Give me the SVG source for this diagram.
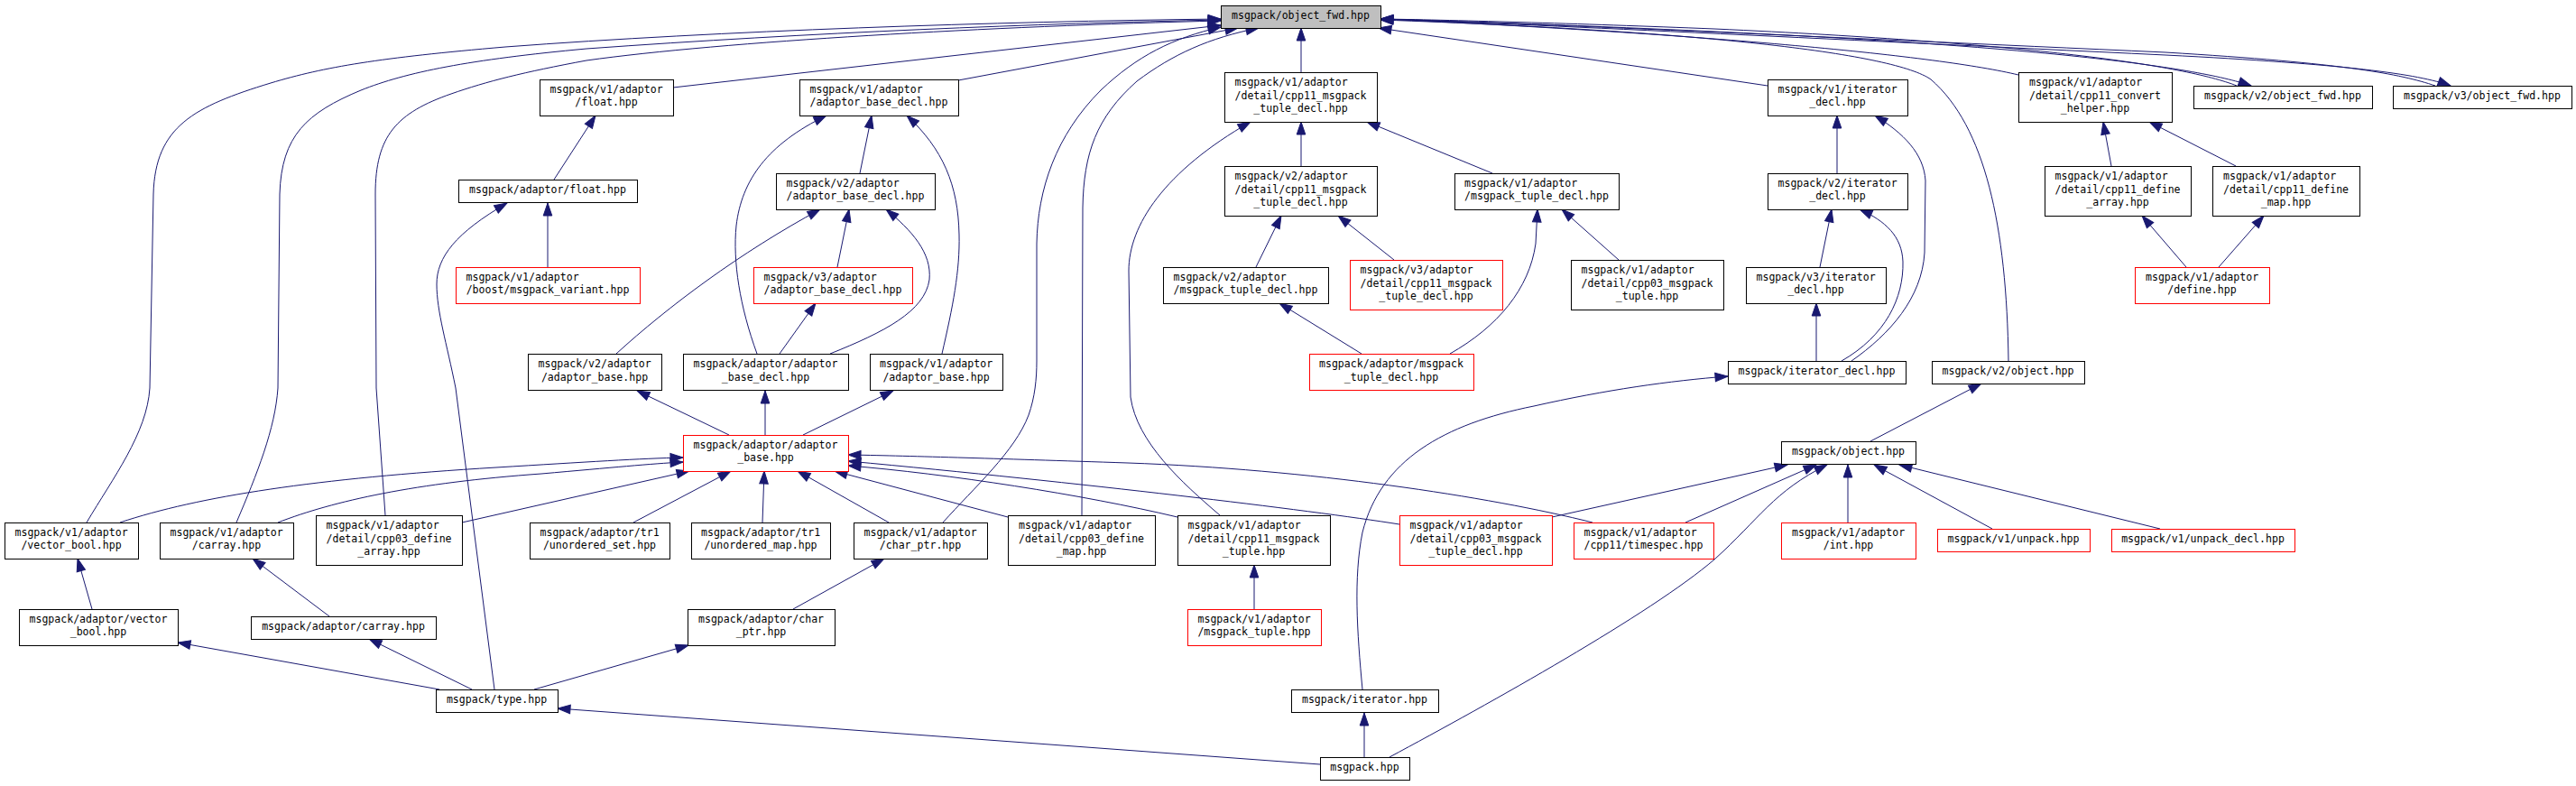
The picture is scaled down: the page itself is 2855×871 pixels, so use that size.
<svg xmlns="http://www.w3.org/2000/svg" width="2855" height="871" viewBox="0 0 2855 871">
<style>
.node rect{fill:#fff;stroke:#000;stroke-width:1}
.node.trunc rect{stroke:#ff0000}
.node.root rect{fill:#bfbfbf}
text{font-family:"DejaVu Sans Mono","Liberation Mono",monospace;font-size:11.55px;fill:#000}
text.m{text-anchor:middle}
.edges path{fill:none;stroke:#191970;stroke-width:1;marker-end:url(#arr)}
</style>
<defs>
<marker id="arr" markerUnits="userSpaceOnUse" markerWidth="14" markerHeight="10" viewBox="0 0 14 10" refX="14" refY="5" orient="auto" overflow="visible">
<path d="M0,0.2 L14,5 L0,9.8 z" fill="#191970" stroke="#191970" stroke-width="1"/>
</marker>
</defs>
<rect width="2855" height="871" fill="#fff"/>
<g class="edges" id="connectors">
<path d="M96,579 C125,530 163,480 166,430 L170,215 C172,140 215,118 300,92 C360,74 420,64 560,52 C800,34 1100,24 1353,21"/>
<path d="M262,579 C285,525 305,475 308,430 L310,215 C312,150 340,125 400,100 C450,80 520,66 650,54 C900,36 1150,26 1353,22"/>
<path d="M427,571 L417,430 L416,215 C416,150 440,125 500,104 C540,90 580,80 650,67 C800,46 1100,29 1353,23"/>
<path d="M746,97 L1353,28"/>
<path d="M1062,89 L1372,31"/>
<path d="M1045,579 C1080,540 1125,500 1140,460 C1147,440 1149,420 1149,400 L1149,270 C1150,210 1170,150 1220,100 C1260,62 1300,42 1353,30"/>
<path d="M1199,571 L1200,230 C1201,170 1215,130 1260,90 C1300,60 1340,42 1395,31"/>
<path d="M1442,80 L1442,31"/>
<path d="M1959,95 L1528,31"/>
<path d="M2226,400 C2224,250 2200,140 2140,88 C2100,60 1900,35 1530,22"/>
<path d="M2237,83 C2150,62 1900,38 1530,21"/>
<path d="M2479,95 C2420,72 2250,48 1900,32 C1750,26 1600,22 1530,21"/>
<path d="M1530,21 C1600,23 1750,28 1900,35 C2250,51 2430,73 2495,95"/>
<path d="M2699,95 C2660,82 2600,70 2400,58 C2000,40 1700,26 1530,21"/>
<path d="M1530,21 C1700,27 2000,42 2400,61 C2600,71 2680,82 2716,95"/>
<path d="M614,199 L660,128"/>
<path d="M607,296 L607,225"/>
<path d="M548,764 L505,430 C495,380 484,345 484,315 C484,285 505,258 562,225"/>
<path d="M953,192 L966,128"/>
<path d="M839,392 C820,340 812,290 816,250 C822,200 850,160 916,128"/>
<path d="M1044,392 C1056,340 1064,300 1063,260 C1062,205 1045,165 1005,128"/>
<path d="M683,392 C740,340 820,280 909,232"/>
<path d="M928,296 L941,232"/>
<path d="M920,392 C980,368 1025,345 1030,310 C1033,280 1010,255 982,232"/>
<path d="M864,392 L904,336"/>
<path d="M808,482 L706,433"/>
<path d="M848,482 L848,433"/>
<path d="M890,482 L990,433"/>
<path d="M133,579 C220,550 350,530 550,518 C650,512 710,508 757,507"/>
<path d="M308,579 C370,555 460,535 600,525 C680,518 720,514 757,512"/>
<path d="M512,579 L764,522"/>
<path d="M702,579 L810,522"/>
<path d="M845,579 L847,522"/>
<path d="M985,579 L884,522"/>
<path d="M1117,573 L925,522"/>
<path d="M1305,573 C1200,548 1050,525 940,516"/>
<path d="M1551,581 C1450,565 1200,535 940,511"/>
<path d="M1765,579 C1650,550 1450,520 1250,513 C1100,508 1000,505 940,504"/>
<path d="M1442,184 L1442,135"/>
<path d="M1654,192 L1515,135"/>
<path d="M1352,571 C1310,535 1260,490 1253,440 L1251,300 C1251,250 1290,190 1386,135"/>
<path d="M1392,296 L1420,239"/>
<path d="M1545,288 L1483,239"/>
<path d="M1794,288 L1731,232"/>
<path d="M1607,392 C1660,362 1695,320 1702,270 L1704,232"/>
<path d="M1509,392 L1418,336"/>
<path d="M2036,192 L2036,128"/>
<path d="M2052,400 C2095,370 2130,330 2133,280 L2134,200 C2132,170 2110,148 2078,128"/>
<path d="M2017,296 L2030,232"/>
<path d="M2041,400 C2090,372 2110,330 2109,290 C2108,262 2090,245 2061,232"/>
<path d="M2013,400 L2013,336"/>
<path d="M2340,184 L2331,135"/>
<path d="M2478,184 L2382,135"/>
<path d="M2423,296 L2374,239"/>
<path d="M2459,296 L2509,239"/>
<path d="M1510,764 C1504,700 1500,640 1510,590 C1530,510 1600,470 1700,450 C1780,432 1850,422 1915,417"/>
<path d="M2073,489 L2196,425"/>
<path d="M1720,573 L1981,515"/>
<path d="M1868,579 L2013,515"/>
<path d="M2048,579 L2048,515"/>
<path d="M2208,586 L2077,515"/>
<path d="M2394,586 L2105,515"/>
<path d="M1540,839 C1650,780 1830,680 1900,620 C1950,575 1965,545 2025,515"/>
<path d="M102,675 L86,619"/>
<path d="M365,683 L280,619"/>
<path d="M487,764 L197,712"/>
<path d="M523,764 L409,708"/>
<path d="M592,764 L763,715"/>
<path d="M879,675 L980,619"/>
<path d="M1390,675 L1390,626"/>
<path d="M1512,839 L1512,790"/>
<path d="M1463,847 L618,785"/>
</g>
<g id="n0" class="node root"><rect x="1353.5" y="6.5" width="177" height="25"/><text class="m" x="1441.5" y="20.7">msgpack/object_fwd.hpp</text></g>
<g id="n1" class="node"><rect x="598.5" y="88.5" width="148" height="40"/><text x="609.5" y="102.7">msgpack/v1/adaptor</text><text class="m" x="672" y="117.3">/float.hpp</text></g>
<g id="n2" class="node"><rect x="886.5" y="88.5" width="176" height="40"/><text x="897.5" y="102.7">msgpack/v1/adaptor</text><text class="m" x="974" y="117.3">/adaptor_base_decl.hpp</text></g>
<g id="n3" class="node"><rect x="1357.5" y="80.5" width="169" height="55"/><text x="1368.5" y="94.9">msgpack/v1/adaptor</text><text x="1368.5" y="109.5">/detail/cpp11_msgpack</text><text class="m" x="1441.5" y="124.1">_tuple_decl.hpp</text></g>
<g id="n4" class="node"><rect x="1959.5" y="88.5" width="155" height="40"/><text x="1970.5" y="102.7">msgpack/v1/iterator</text><text class="m" x="2036.5" y="117.3">_decl.hpp</text></g>
<g id="n5" class="node"><rect x="2237.5" y="80.5" width="170" height="55"/><text x="2249" y="94.9">msgpack/v1/adaptor</text><text x="2249" y="109.5">/detail/cpp11_convert</text><text class="m" x="2322" y="124.1">_helper.hpp</text></g>
<g id="n6" class="node"><rect x="2431.5" y="95.5" width="198" height="25"/><text class="m" x="2530" y="110.2">msgpack/v2/object_fwd.hpp</text></g>
<g id="n7" class="node"><rect x="2652.5" y="95.5" width="198" height="25"/><text class="m" x="2751" y="110.2">msgpack/v3/object_fwd.hpp</text></g>
<g id="n8" class="node"><rect x="508.5" y="199.5" width="198" height="25"/><text class="m" x="607" y="214.2">msgpack/adaptor/float.hpp</text></g>
<g id="n9" class="node"><rect x="860.5" y="192.5" width="176" height="40"/><text x="871.5" y="206.7">msgpack/v2/adaptor</text><text class="m" x="948" y="221.3">/adaptor_base_decl.hpp</text></g>
<g id="n10" class="node"><rect x="1357.5" y="184.5" width="169" height="55"/><text x="1368.5" y="198.9">msgpack/v2/adaptor</text><text x="1368.5" y="213.5">/detail/cpp11_msgpack</text><text class="m" x="1441.5" y="228.1">_tuple_decl.hpp</text></g>
<g id="n11" class="node"><rect x="1612.5" y="192.5" width="182" height="40"/><text x="1623" y="206.7">msgpack/v1/adaptor</text><text class="m" x="1703" y="221.3">/msgpack_tuple_decl.hpp</text></g>
<g id="n12" class="node"><rect x="1959.5" y="192.5" width="155" height="40"/><text x="1970.5" y="206.7">msgpack/v2/iterator</text><text class="m" x="2036.5" y="221.3">_decl.hpp</text></g>
<g id="n13" class="node"><rect x="2266.5" y="184.5" width="162" height="55"/><text x="2277.5" y="198.9">msgpack/v1/adaptor</text><text x="2277.5" y="213.5">/detail/cpp11_define</text><text class="m" x="2347" y="228.1">_array.hpp</text></g>
<g id="n14" class="node"><rect x="2452.5" y="184.5" width="163" height="55"/><text x="2464" y="198.9">msgpack/v1/adaptor</text><text x="2464" y="213.5">/detail/cpp11_define</text><text class="m" x="2533.5" y="228.1">_map.hpp</text></g>
<g id="n15" class="node trunc"><rect x="505.5" y="296.5" width="204" height="40"/><text x="516.5" y="310.7">msgpack/v1/adaptor</text><text class="m" x="607" y="325.3">/boost/msgpack_variant.hpp</text></g>
<g id="n16" class="node trunc"><rect x="835.5" y="296.5" width="176" height="40"/><text x="846.5" y="310.7">msgpack/v3/adaptor</text><text class="m" x="923" y="325.3">/adaptor_base_decl.hpp</text></g>
<g id="n17" class="node"><rect x="1289.5" y="296.5" width="183" height="40"/><text x="1300.5" y="310.7">msgpack/v2/adaptor</text><text class="m" x="1380.5" y="325.3">/msgpack_tuple_decl.hpp</text></g>
<g id="n18" class="node trunc"><rect x="1496.5" y="288.5" width="169" height="55"/><text x="1507.5" y="302.9">msgpack/v3/adaptor</text><text x="1507.5" y="317.5">/detail/cpp11_msgpack</text><text class="m" x="1580.5" y="332.1">_tuple_decl.hpp</text></g>
<g id="n19" class="node"><rect x="1741.5" y="288.5" width="169" height="55"/><text x="1752.5" y="302.9">msgpack/v1/adaptor</text><text x="1752.5" y="317.5">/detail/cpp03_msgpack</text><text class="m" x="1825.5" y="332.1">_tuple.hpp</text></g>
<g id="n20" class="node"><rect x="1935.5" y="296.5" width="155" height="40"/><text x="1946.5" y="310.7">msgpack/v3/iterator</text><text class="m" x="2012.5" y="325.3">_decl.hpp</text></g>
<g id="n21" class="node trunc"><rect x="2366.5" y="296.5" width="149" height="40"/><text x="2378" y="310.7">msgpack/v1/adaptor</text><text class="m" x="2440.5" y="325.3">/define.hpp</text></g>
<g id="n22" class="node"><rect x="585.5" y="392.5" width="148" height="40"/><text x="596.5" y="407.2">msgpack/v2/adaptor</text><text class="m" x="659" y="421.8">/adaptor_base.hpp</text></g>
<g id="n23" class="node"><rect x="757.5" y="392.5" width="183" height="40"/><text x="768.5" y="407.2">msgpack/adaptor/adaptor</text><text class="m" x="848.5" y="421.8">_base_decl.hpp</text></g>
<g id="n24" class="node"><rect x="964.5" y="392.5" width="147" height="40"/><text x="975" y="407.2">msgpack/v1/adaptor</text><text class="m" x="1037.5" y="421.8">/adaptor_base.hpp</text></g>
<g id="n25" class="node trunc"><rect x="1451.5" y="392.5" width="182" height="40"/><text x="1462" y="407.2">msgpack/adaptor/msgpack</text><text class="m" x="1542" y="421.8">_tuple_decl.hpp</text></g>
<g id="n26" class="node"><rect x="1915.5" y="400.5" width="197" height="25"/><text class="m" x="2013.5" y="414.7">msgpack/iterator_decl.hpp</text></g>
<g id="n27" class="node"><rect x="2141.5" y="400.5" width="169" height="25"/><text class="m" x="2225.5" y="414.7">msgpack/v2/object.hpp</text></g>
<g id="n28" class="node trunc"><rect x="757.5" y="482.5" width="183" height="40"/><text x="768.5" y="496.7">msgpack/adaptor/adaptor</text><text class="m" x="848.5" y="511.3">_base.hpp</text></g>
<g id="n29" class="node"><rect x="1974.5" y="489.5" width="149" height="25"/><text class="m" x="2048.5" y="504.2">msgpack/object.hpp</text></g>
<g id="n30" class="node"><rect x="5.5" y="579.5" width="148" height="40"/><text x="16.5" y="593.7">msgpack/v1/adaptor</text><text class="m" x="79" y="608.3">/vector_bool.hpp</text></g>
<g id="n31" class="node"><rect x="177.5" y="579.5" width="148" height="40"/><text x="188.5" y="593.7">msgpack/v1/adaptor</text><text class="m" x="251" y="608.3">/carray.hpp</text></g>
<g id="n32" class="node"><rect x="350.5" y="571.5" width="162" height="55"/><text x="361.5" y="585.9">msgpack/v1/adaptor</text><text x="361.5" y="600.5">/detail/cpp03_define</text><text class="m" x="431" y="615.1">_array.hpp</text></g>
<g id="n33" class="node"><rect x="587.5" y="579.5" width="155" height="40"/><text x="598.5" y="593.7">msgpack/adaptor/tr1</text><text class="m" x="664.5" y="608.3">/unordered_set.hpp</text></g>
<g id="n34" class="node"><rect x="766.5" y="579.5" width="154" height="40"/><text x="777" y="593.7">msgpack/adaptor/tr1</text><text class="m" x="843" y="608.3">/unordered_map.hpp</text></g>
<g id="n35" class="node"><rect x="946.5" y="579.5" width="148" height="40"/><text x="957.5" y="593.7">msgpack/v1/adaptor</text><text class="m" x="1020" y="608.3">/char_ptr.hpp</text></g>
<g id="n36" class="node"><rect x="1117.5" y="571.5" width="163" height="55"/><text x="1129" y="585.9">msgpack/v1/adaptor</text><text x="1129" y="600.5">/detail/cpp03_define</text><text class="m" x="1198.5" y="615.1">_map.hpp</text></g>
<g id="n37" class="node"><rect x="1305.5" y="571.5" width="169" height="55"/><text x="1316.5" y="585.9">msgpack/v1/adaptor</text><text x="1316.5" y="600.5">/detail/cpp11_msgpack</text><text class="m" x="1389.5" y="615.1">_tuple.hpp</text></g>
<g id="n38" class="node trunc"><rect x="1551.5" y="571.5" width="169" height="55"/><text x="1562.5" y="585.9">msgpack/v1/adaptor</text><text x="1562.5" y="600.5">/detail/cpp03_msgpack</text><text class="m" x="1635.5" y="615.1">_tuple_decl.hpp</text></g>
<g id="n39" class="node trunc"><rect x="1744.5" y="579.5" width="155" height="40"/><text x="1755.5" y="593.7">msgpack/v1/adaptor</text><text class="m" x="1821.5" y="608.3">/cpp11/timespec.hpp</text></g>
<g id="n40" class="node trunc"><rect x="1974.5" y="579.5" width="149" height="40"/><text x="1986" y="593.7">msgpack/v1/adaptor</text><text class="m" x="2048.5" y="608.3">/int.hpp</text></g>
<g id="n41" class="node trunc"><rect x="2147.5" y="586.5" width="169" height="25"/><text class="m" x="2231.5" y="600.7">msgpack/v1/unpack.hpp</text></g>
<g id="n42" class="node trunc"><rect x="2340.5" y="586.5" width="203" height="25"/><text class="m" x="2441.5" y="600.7">msgpack/v1/unpack_decl.hpp</text></g>
<g id="n43" class="node"><rect x="21.5" y="675.5" width="176" height="40"/><text x="32.5" y="689.7">msgpack/adaptor/vector</text><text class="m" x="109" y="704.3">_bool.hpp</text></g>
<g id="n44" class="node"><rect x="278.5" y="683.5" width="205" height="25"/><text class="m" x="380.5" y="697.7">msgpack/adaptor/carray.hpp</text></g>
<g id="n45" class="node"><rect x="762.5" y="675.5" width="163" height="40"/><text x="774" y="689.7">msgpack/adaptor/char</text><text class="m" x="843.5" y="704.3">_ptr.hpp</text></g>
<g id="n46" class="node trunc"><rect x="1316.5" y="675.5" width="148" height="40"/><text x="1327.5" y="689.7">msgpack/v1/adaptor</text><text class="m" x="1390" y="704.3">/msgpack_tuple.hpp</text></g>
<g id="n47" class="node"><rect x="483.5" y="764.5" width="135" height="25"/><text class="m" x="550.5" y="779.2">msgpack/type.hpp</text></g>
<g id="n48" class="node"><rect x="1431.5" y="764.5" width="163" height="25"/><text class="m" x="1512.5" y="779.2">msgpack/iterator.hpp</text></g>
<g id="n49" class="node"><rect x="1463.5" y="839.5" width="99" height="25"/><text class="m" x="1512.5" y="854.2">msgpack.hpp</text></g>
</svg>
